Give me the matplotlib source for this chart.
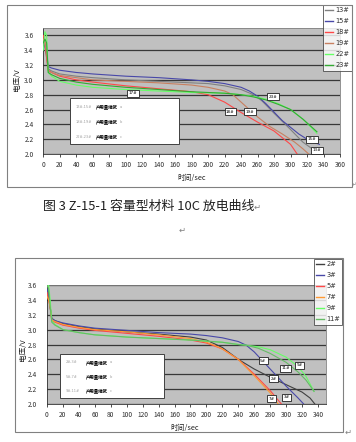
import matplotlib
matplotlib.use('Agg')
import matplotlib.pyplot as plt
import matplotlib.patches as mpatches

plt.rcParams['font.family'] = ['Noto Sans CJK SC', 'DejaVu Sans']

W, H = 356, 442

# ---- top chart data (time/sec, voltage/V) ----
top_names = ['13#', '15#', '18#', '19#', '22#', '23#']
top_colors = ['#808080', '#4848a8', '#ff4848', '#c88060', '#66ff66', '#33aa33']
t13 = [0, 2, 4, 6, 10, 20, 40, 60, 100, 140, 180, 200, 220, 240, 255, 265, 280, 300, 315, 325, 330]
v13 = [3.55, 3.45, 3.3, 3.15, 3.12, 3.08, 3.05, 3.03, 3.0, 2.98, 2.96, 2.95, 2.92, 2.87, 2.8, 2.72, 2.55, 2.33, 2.16, 2.08, 2.04]
t15 = [0, 2, 4, 6, 10, 20, 40, 60, 100, 140, 180, 200, 220, 240, 250, 260, 270, 290, 310, 320, 330, 335]
v15 = [3.5, 3.45, 3.35, 3.18, 3.16, 3.13, 3.1, 3.08, 3.05, 3.03, 3.0, 2.98, 2.95, 2.9, 2.85, 2.78, 2.68, 2.45, 2.27, 2.2, 2.15, 2.13]
t18 = [0, 2, 4, 6, 10, 20, 40, 60, 100, 140, 180, 200, 220, 240, 260, 280, 300, 308]
v18 = [3.6, 3.5, 3.3, 3.13, 3.1, 3.05, 3.0, 2.97, 2.92, 2.88, 2.84, 2.8, 2.7, 2.56, 2.43, 2.31, 2.13, 2.0]
t19 = [0, 2, 4, 6, 10, 20, 40, 60, 100, 140, 180, 200, 220, 230, 240, 250, 260, 275, 290, 305, 315, 322]
v19 = [3.55, 3.5, 3.35, 3.12, 3.1, 3.06, 3.03, 3.0, 2.98, 2.96, 2.93, 2.9, 2.85, 2.8, 2.7, 2.6, 2.5, 2.37, 2.27, 2.16, 2.07, 2.0]
t22 = [0, 2, 4, 6, 10, 20, 40, 60, 100, 140, 180, 220, 240, 255, 270, 285, 300, 315, 325, 332]
v22 = [3.4, 3.65, 3.6, 3.1, 3.05, 2.98, 2.93, 2.9, 2.87, 2.85, 2.83, 2.82, 2.8, 2.78, 2.74, 2.68, 2.6, 2.47, 2.36, 2.28]
t23 = [0, 2, 4, 6, 10, 20, 40, 60, 100, 140, 180, 220, 240, 255, 270, 285, 300, 315, 325, 332]
v23 = [3.5, 3.55, 3.5, 3.1, 3.07, 3.02, 2.97, 2.94, 2.9, 2.87, 2.84, 2.82, 2.8, 2.77, 2.73, 2.67, 2.6, 2.47, 2.37, 2.3]
top_t = [t13, t15, t18, t19, t22, t23]
top_v = [v13, v15, v18, v19, v22, v23]
top_tags = ['17#', '23#', '18#', '19#', '15#', '13#']
top_tag_t = [109, 279, 227, 251, 326, 332]
top_tag_v = [2.82, 2.77, 2.57, 2.57, 2.2, 2.05]
top_notes = ['13#,15#', '18#,19#', '22#,23#']
note_tails = ['a', 'b', 'c']

# ---- bottom chart data ----
bot_names = ['2#', '3#', '5#', '7#', '9#', '11#']
bot_colors = ['#404040', '#4848a8', '#ff4848', '#ff9933', '#66ff66', '#66bb66']
t2 = [0, 2, 4, 6, 10, 20, 40, 60, 100, 140, 180, 200, 220, 240, 260, 280, 300, 320, 330, 336]
v2 = [3.6, 3.5, 3.3, 3.15, 3.12, 3.08, 3.04, 3.01, 2.97, 2.94, 2.9, 2.86, 2.76, 2.6, 2.47, 2.36, 2.26, 2.16, 2.08, 2.0]
t3 = [0, 2, 4, 6, 10, 20, 40, 60, 100, 140, 180, 200, 220, 240, 250, 260, 280, 300, 315, 322]
v3 = [3.55, 3.45, 3.3, 3.15, 3.12, 3.09, 3.05, 3.02, 2.99, 2.96, 2.94, 2.92, 2.89, 2.84, 2.79, 2.7, 2.47, 2.24, 2.08, 2.0]
t5 = [0, 2, 4, 6, 10, 20, 40, 60, 100, 140, 180, 200, 210, 220, 240, 260, 280, 294]
v5 = [3.5, 3.4, 3.3, 3.12, 3.1, 3.06, 3.02, 2.99, 2.95, 2.91, 2.86, 2.82, 2.78, 2.74, 2.6, 2.4, 2.18, 2.0]
t7 = [0, 2, 4, 6, 10, 20, 40, 60, 100, 140, 180, 200, 210, 220, 240, 260, 280, 290]
v7 = [3.45, 3.4, 3.3, 3.13, 3.11, 3.07, 3.03, 3.0, 2.97, 2.93, 2.88, 2.83, 2.79, 2.74, 2.6, 2.38, 2.15, 2.0]
t9 = [0, 2, 4, 6, 10, 20, 40, 60, 100, 140, 180, 220, 240, 250, 265, 280, 300, 315, 325, 335]
v9 = [3.6, 3.6, 3.4, 3.12, 3.07, 3.0, 2.96, 2.93, 2.9, 2.88, 2.86, 2.83, 2.8, 2.79, 2.77, 2.73, 2.63, 2.5, 2.37, 2.17]
t11 = [0, 2, 4, 6, 10, 20, 40, 60, 100, 140, 180, 220, 240, 250, 265, 280, 300, 315, 325, 335]
v11 = [3.6, 3.55, 3.3, 3.1, 3.06, 3.0, 2.96, 2.93, 2.9, 2.88, 2.86, 2.83, 2.8, 2.79, 2.75, 2.68, 2.56, 2.43, 2.32, 2.17]
bot_t = [t2, t3, t5, t7, t9, t11]
bot_v = [v2, v3, v5, v7, v9, v11]
bot_tags = ['5#', '9#', '11#', '2#', '7#', '3#']
bot_tag_t = [271, 317, 299, 284, 282, 301]
bot_tag_v = [2.58, 2.52, 2.48, 2.34, 2.07, 2.09]
bot_notes = ['2#,3#', '5#,7#', '9#,11#']

note_text = '产用量缩武'
caption = '图 3 Z-15-1 容量型材料 10C 放电曲线'
yticks = [2.0, 2.2, 2.4, 2.6, 2.8, 3.0, 3.2, 3.4, 3.6]


def fx(px):
    return px / W


def fy(py):
    return 1 - py / H


fig = plt.figure(figsize=(W / 100, H / 100), dpi=100)


def frame(x0, y0, x1, y1):
    fig.patches.append(mpatches.Rectangle((fx(x0), fy(y1)), fx(x1) - fx(x0), fy(y0) - fy(y1),
                                          transform=fig.transFigure, fill=False,
                                          edgecolor='#808080', lw=0.8))


def chart(box, xmax, xticks, ymax, ts, vs, names, colors, tags, tag_t, tag_v,
          note_box, notes, legend_at, ylab_at, xlab_at):
    x0, y0, x1, y1 = box
    ax = fig.add_axes([fx(x0), fy(y1), fx(x1) - fx(x0), fy(y0) - fy(y1)])
    ax.set_facecolor('#c0c0c0')
    for y in yticks:
        ax.axhline(y, color='#383838', lw=0.9, zorder=1)
    lines = []
    for t, v, n, c in zip(ts, vs, names, colors):
        ln, = ax.plot(t, v, color=c, lw=0.8, label=n, zorder=3)
        lines.append(ln)
    for s, tt, vv in zip(tags, tag_t, tag_v):
        ax.text(tt, vv, s, fontsize=3, ha='center', va='center', zorder=5,
                family=['DejaVu Sans'],
                bbox=dict(boxstyle='square,pad=0.35', fc='white', ec='#202020', lw=0.6))
    ax.set_xlim(0, xmax)
    ax.set_ylim(2.0, ymax)
    ax.set_xticks(xticks)
    ax.set_yticks(yticks)
    ax.set_yticklabels(['%.1f' % y for y in yticks])
    ax.tick_params(axis='x', labelsize=4.8, length=2, pad=3, colors='#303030', width=0.6)
    ax.tick_params(axis='y', labelsize=4.8, length=0, pad=7, colors='#303030')
    for s in ax.spines.values():
        s.set_color('#808080')
        s.set_linewidth(0.6)
    ax.spines['bottom'].set_color('#303030')
    ax.spines['left'].set_color('#303030')

    # note box inside the plot
    nx0, ny0, nx1, ny1 = note_box
    fig.patches.append(mpatches.Rectangle((fx(nx0), fy(ny1)), fx(nx1) - fx(nx0), fy(ny0) - fy(ny1),
                                          transform=fig.transFigure, fc='white',
                                          edgecolor='#404040', lw=0.7, zorder=4))
    step = (ny1 - ny0) / 3.2
    for i, (nm, tail) in enumerate(zip(notes, note_tails)):
        yy = ny0 + step * (0.6 + i * 1.05)
        fig.text(fx(nx0 + 6), fy(yy), nm, fontsize=2.6, color='#a0a0a0', va='center', zorder=6,
                 family=['DejaVu Sans'])
        fig.text(fx(nx0 + 26), fy(yy), note_text, fontsize=3.2, color='black',
                 fontweight='bold', va='center', zorder=6)
        fig.text(fx(nx0 + 50), fy(yy), tail, fontsize=2.6, color='#a0a0a0', va='center', zorder=6,
                 family=['DejaVu Sans'])

    leg = ax.legend(handles=lines, loc='upper left', bbox_to_anchor=(fx(legend_at[0]), fy(legend_at[1])),
                    bbox_transform=fig.transFigure, fontsize=4.8, frameon=True, fancybox=False,
                    handlelength=1.2, handletextpad=0.3, labelspacing=0.75,
                    borderpad=0.35, borderaxespad=0)
    leg.get_frame().set_edgecolor('#404040')
    leg.get_frame().set_linewidth(0.7)
    leg.set_zorder(10)
    for ln in leg.get_lines():
        ln.set_linewidth(1.0)
    for tx in leg.get_texts():
        tx.set_color('#303030')
        tx.set_family(['DejaVu Sans'])

    fig.text(fx(ylab_at[0]), fy(ylab_at[1]), '电压/V', rotation=90, fontsize=5.5,
             ha='center', va='center', color='#202020')
    fig.text(fx(xlab_at[0]), fy(xlab_at[1]), '时间/sec', fontsize=5.2,
             ha='center', va='center', color='#202020')
    return ax


frame(7, 5, 352, 187)
frame(15, 258, 343, 432)

chart((43.3, 28, 340, 154), 360, list(range(0, 361, 20)), 3.7,
      top_t, top_v, top_names, top_colors, top_tags, top_tag_t, top_tag_v,
      (70, 98, 179, 144), top_notes, (323, 5), (17, 80), (192, 178))

chart((47, 285, 326, 404), 350, list(range(0, 341, 20)), 3.6,
      bot_t, bot_v, bot_names, bot_colors, bot_tags, bot_tag_t, bot_tag_v,
      (60, 354, 164, 398), bot_notes, (314, 259), (23, 350), (185, 428))

fig.text(fx(43), fy(206), caption, fontsize=9.3, ha='left', va='center', color='#202020')
fig.text(fx(254), fy(207), '↵', fontsize=6, ha='left', va='center', color='#808080',
         family=['DejaVu Sans'])
fig.text(fx(182), fy(230), '↵', fontsize=6, ha='center', va='center', color='#808080',
         family=['DejaVu Sans'])
fig.text(fx(354), fy(185), '↵', fontsize=4, ha='center', va='center', color='#808080',
         family=['DejaVu Sans'])
fig.text(fx(348), fy(432), '↵', fontsize=6, ha='center', va='center', color='#808080',
         family=['DejaVu Sans'])

fig.savefig('out.png', dpi=100)
